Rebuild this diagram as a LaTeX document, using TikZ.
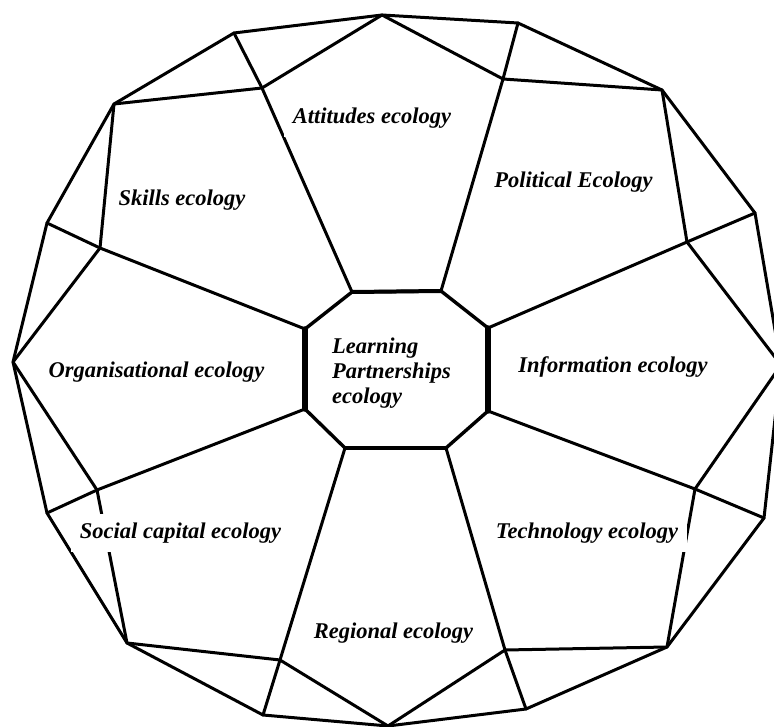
\documentclass[tikz,border=0pt]{standalone}
\usepackage{fontspec}
\setmainfont{Liberation Serif}
\begin{document}
\begin{tikzpicture}[x=1pt,y=-1pt,
  edge/.style={line width=3pt, line join=round, line cap=round},
  octedge/.style={line width=3.4pt, line join=round, line cap=round},
  octside/.style={line width=5.5pt, line cap=round},
  octtb/.style={line width=4pt, line cap=round},
  lab/.style={fill=white, inner xsep=9pt, inner ysep=9pt,
    font=\fontsize{22.5}{25}\selectfont\bfseries\itshape},
  centrelab/.style={inner sep=0pt, align=left,
    font=\fontsize{22.5}{25}\selectfont\bfseries\itshape}]
\useasboundingbox (0,0) rectangle (774,727);
\clip (0,0) rectangle (774,727);
% central octagon
\coordinate (C1) at (352,292);
\coordinate (C2) at (441,291);
\coordinate (C3) at (488,328);
\coordinate (C4) at (488,411);
\coordinate (C5) at (446,448);
\coordinate (C6) at (345,448);
\coordinate (C7) at (305,409);
\coordinate (C8) at (305,329);
% inner ring
\coordinate (I1) at (262,88);
\coordinate (I2) at (503,79);
\coordinate (I3) at (687,242);
\coordinate (I4) at (695,489);
\coordinate (I5) at (505,650);
\coordinate (I6) at (280,660);
\coordinate (I7) at (97,490);
\coordinate (I8) at (100,248);
% apexes
\coordinate (A1) at (382,15);
\coordinate (A2) at (662,90);
\coordinate (A3) at (781,365);
\coordinate (A4) at (667,647);
\coordinate (A5) at (388,726);
\coordinate (A6) at (127,643);
\coordinate (A7) at (13,362);
\coordinate (A8) at (114,104);
% outer in-between vertices
\coordinate (O12) at (518,23);
\coordinate (O23) at (755,213);
\coordinate (O34) at (764,518);
\coordinate (O45) at (526,709);
\coordinate (O56) at (263,715);
\coordinate (O67) at (47,513);
\coordinate (O78) at (47,223);
\coordinate (O81) at (234,33);

% octagon
\draw[octedge] (C1) -- (C2) -- (C3) -- (C4) -- (C5) -- (C6) -- (C7) -- (C8) -- cycle;
\draw[octside] (C3) -- (C4);
\draw[octside] (C7) -- (C8);
\draw[octtb] (C1) -- (C2);
\draw[octtb] (C5) -- (C6);

% spokes
\draw[edge] (C1) -- (I1);
\draw[edge] (C2) -- (I2);
\draw[edge] (C3) -- (I3);
\draw[edge] (C4) -- (I4);
\draw[edge] (C5) -- (I5);
\draw[edge] (C6) -- (I6);
\draw[edge] (C7) -- (I7);
\draw[edge] (C8) -- (I8);

% pentagon apex edges
\draw[edge] (I1) -- (A1) -- (I2) -- (A2) -- (I3) -- (A3) -- (I4) -- (A4) -- (I5) -- (A5) -- (I6) -- (A6) -- (I7) -- (A7) -- (I8) -- (A8) -- cycle;

% connectors to outer vertices
\draw[edge] (O12) -- (I2);
\draw[edge] (O23) -- (I3);
\draw[edge] (O34) -- (I4);
\draw[edge] (O45) -- (I5);
\draw[edge] (O56) -- (I6);
\draw[edge] (O67) -- (I7);
\draw[edge] (O78) -- (I8);
\draw[edge] (O81) -- (I1);

% outer boundary
\draw[edge] (A1) -- (O12) -- (A2) -- (O23) -- (A3) -- (O34) -- (A4) -- (O45) -- (A5) -- (O56) -- (A6) -- (O67) -- (A7) -- (O78) -- (A8) -- (O81) -- cycle;

% labels
\node[lab] (att) at (372,118) {Attitudes ecology};
\node[lab] (pol) at (573.5,182) {Political Ecology};
\node[lab] (inf) at (613,367) {Information ecology};
\node[lab] (tec) at (587,533) {Technology ecology};
\node[lab] (reg) at (393.5,633) {Regional ecology};
\node[lab] (soc) at (180.5,533) {Social capital ecology};
\node[lab] (org) at (156.5,372) {Organisational ecology};
\node[lab] (ski) at (182,200) {Skills ecology};
\node[centrelab, anchor=west] (lpe) at (332,373.5) {Learning\\Partnerships\\ecology};
\end{tikzpicture}
\end{document}
